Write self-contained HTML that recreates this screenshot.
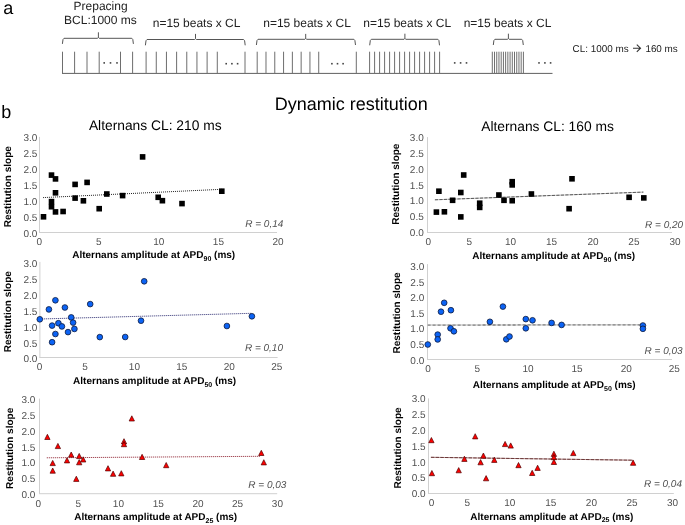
<!DOCTYPE html>
<html><head><meta charset="utf-8"><style>
html,body{margin:0;padding:0;background:#fff;}
body{width:685px;height:525px;overflow:hidden;}
svg{display:block;font-family:"Liberation Sans", sans-serif;will-change:transform;text-rendering:geometricPrecision;}
</style></head><body>
<svg width="685" height="525" viewBox="0 0 685 525">
<rect width="685" height="525" fill="#fff"/>
<line x1="62" y1="73.4" x2="552.5" y2="73.4" stroke="#606060" stroke-width="1"/>
<line x1="62.50" y1="51.7" x2="62.50" y2="73.4" stroke="#6e6e6e" stroke-width="1"/>
<line x1="74.60" y1="51.7" x2="74.60" y2="73.4" stroke="#6e6e6e" stroke-width="1"/>
<line x1="87.00" y1="51.7" x2="87.00" y2="73.4" stroke="#6e6e6e" stroke-width="1"/>
<line x1="99.20" y1="51.7" x2="99.20" y2="73.4" stroke="#6e6e6e" stroke-width="1"/>
<line x1="120.50" y1="51.7" x2="120.50" y2="73.4" stroke="#6e6e6e" stroke-width="1"/>
<line x1="132.60" y1="51.7" x2="132.60" y2="73.4" stroke="#6e6e6e" stroke-width="1"/>
<line x1="146.10" y1="51.7" x2="146.10" y2="73.4" stroke="#6e6e6e" stroke-width="1"/>
<line x1="156.27" y1="51.7" x2="156.27" y2="73.4" stroke="#6e6e6e" stroke-width="1"/>
<line x1="166.44" y1="51.7" x2="166.44" y2="73.4" stroke="#6e6e6e" stroke-width="1"/>
<line x1="176.61" y1="51.7" x2="176.61" y2="73.4" stroke="#6e6e6e" stroke-width="1"/>
<line x1="186.78" y1="51.7" x2="186.78" y2="73.4" stroke="#6e6e6e" stroke-width="1"/>
<line x1="196.95" y1="51.7" x2="196.95" y2="73.4" stroke="#6e6e6e" stroke-width="1"/>
<line x1="207.12" y1="51.7" x2="207.12" y2="73.4" stroke="#6e6e6e" stroke-width="1"/>
<line x1="217.29" y1="51.7" x2="217.29" y2="73.4" stroke="#6e6e6e" stroke-width="1"/>
<line x1="245.00" y1="51.7" x2="245.00" y2="73.4" stroke="#6e6e6e" stroke-width="1"/>
<line x1="257.20" y1="51.7" x2="257.20" y2="73.4" stroke="#6e6e6e" stroke-width="1"/>
<line x1="265.99" y1="51.7" x2="265.99" y2="73.4" stroke="#6e6e6e" stroke-width="1"/>
<line x1="274.78" y1="51.7" x2="274.78" y2="73.4" stroke="#6e6e6e" stroke-width="1"/>
<line x1="283.57" y1="51.7" x2="283.57" y2="73.4" stroke="#6e6e6e" stroke-width="1"/>
<line x1="292.36" y1="51.7" x2="292.36" y2="73.4" stroke="#6e6e6e" stroke-width="1"/>
<line x1="301.15" y1="51.7" x2="301.15" y2="73.4" stroke="#6e6e6e" stroke-width="1"/>
<line x1="309.94" y1="51.7" x2="309.94" y2="73.4" stroke="#6e6e6e" stroke-width="1"/>
<line x1="318.73" y1="51.7" x2="318.73" y2="73.4" stroke="#6e6e6e" stroke-width="1"/>
<line x1="356.30" y1="51.7" x2="356.30" y2="73.4" stroke="#6e6e6e" stroke-width="1"/>
<line x1="369.60" y1="51.7" x2="369.60" y2="73.4" stroke="#6e6e6e" stroke-width="1"/>
<line x1="374.60" y1="51.7" x2="374.60" y2="73.4" stroke="#6e6e6e" stroke-width="1"/>
<line x1="379.60" y1="51.7" x2="379.60" y2="73.4" stroke="#6e6e6e" stroke-width="1"/>
<line x1="384.60" y1="51.7" x2="384.60" y2="73.4" stroke="#6e6e6e" stroke-width="1"/>
<line x1="389.60" y1="51.7" x2="389.60" y2="73.4" stroke="#6e6e6e" stroke-width="1"/>
<line x1="394.60" y1="51.7" x2="394.60" y2="73.4" stroke="#6e6e6e" stroke-width="1"/>
<line x1="399.60" y1="51.7" x2="399.60" y2="73.4" stroke="#6e6e6e" stroke-width="1"/>
<line x1="404.60" y1="51.7" x2="404.60" y2="73.4" stroke="#6e6e6e" stroke-width="1"/>
<line x1="409.60" y1="51.7" x2="409.60" y2="73.4" stroke="#6e6e6e" stroke-width="1"/>
<line x1="414.60" y1="51.7" x2="414.60" y2="73.4" stroke="#6e6e6e" stroke-width="1"/>
<line x1="419.60" y1="51.7" x2="419.60" y2="73.4" stroke="#6e6e6e" stroke-width="1"/>
<line x1="424.60" y1="51.7" x2="424.60" y2="73.4" stroke="#6e6e6e" stroke-width="1"/>
<line x1="429.60" y1="51.7" x2="429.60" y2="73.4" stroke="#6e6e6e" stroke-width="1"/>
<line x1="434.60" y1="51.7" x2="434.60" y2="73.4" stroke="#6e6e6e" stroke-width="1"/>
<line x1="439.60" y1="51.7" x2="439.60" y2="73.4" stroke="#6e6e6e" stroke-width="1"/>
<line x1="492.30" y1="51.7" x2="492.30" y2="73.4" stroke="#6e6e6e" stroke-width="1"/>
<line x1="494.52" y1="51.7" x2="494.52" y2="73.4" stroke="#6e6e6e" stroke-width="1"/>
<line x1="496.74" y1="51.7" x2="496.74" y2="73.4" stroke="#6e6e6e" stroke-width="1"/>
<line x1="498.96" y1="51.7" x2="498.96" y2="73.4" stroke="#6e6e6e" stroke-width="1"/>
<line x1="501.19" y1="51.7" x2="501.19" y2="73.4" stroke="#6e6e6e" stroke-width="1"/>
<line x1="503.41" y1="51.7" x2="503.41" y2="73.4" stroke="#6e6e6e" stroke-width="1"/>
<line x1="505.63" y1="51.7" x2="505.63" y2="73.4" stroke="#6e6e6e" stroke-width="1"/>
<line x1="507.85" y1="51.7" x2="507.85" y2="73.4" stroke="#6e6e6e" stroke-width="1"/>
<line x1="510.07" y1="51.7" x2="510.07" y2="73.4" stroke="#6e6e6e" stroke-width="1"/>
<line x1="512.29" y1="51.7" x2="512.29" y2="73.4" stroke="#6e6e6e" stroke-width="1"/>
<line x1="514.51" y1="51.7" x2="514.51" y2="73.4" stroke="#6e6e6e" stroke-width="1"/>
<line x1="516.74" y1="51.7" x2="516.74" y2="73.4" stroke="#6e6e6e" stroke-width="1"/>
<line x1="518.96" y1="51.7" x2="518.96" y2="73.4" stroke="#6e6e6e" stroke-width="1"/>
<line x1="521.18" y1="51.7" x2="521.18" y2="73.4" stroke="#6e6e6e" stroke-width="1"/>
<line x1="523.40" y1="51.7" x2="523.40" y2="73.4" stroke="#6e6e6e" stroke-width="1"/>
<rect x="103.40" y="62.10" width="1.6" height="1.6" fill="#444"/>
<rect x="109.70" y="62.10" width="1.6" height="1.6" fill="#444"/>
<rect x="116.20" y="62.10" width="1.6" height="1.6" fill="#444"/>
<rect x="225.40" y="62.90" width="1.6" height="1.6" fill="#444"/>
<rect x="231.10" y="62.90" width="1.6" height="1.6" fill="#444"/>
<rect x="236.80" y="62.90" width="1.6" height="1.6" fill="#444"/>
<rect x="331.10" y="62.90" width="1.6" height="1.6" fill="#444"/>
<rect x="336.70" y="62.90" width="1.6" height="1.6" fill="#444"/>
<rect x="342.30" y="62.90" width="1.6" height="1.6" fill="#444"/>
<rect x="453.90" y="62.10" width="1.6" height="1.6" fill="#444"/>
<rect x="459.80" y="62.10" width="1.6" height="1.6" fill="#444"/>
<rect x="465.70" y="62.10" width="1.6" height="1.6" fill="#444"/>
<rect x="538.20" y="62.10" width="1.6" height="1.6" fill="#444"/>
<rect x="544.10" y="62.10" width="1.6" height="1.6" fill="#444"/>
<rect x="549.80" y="62.10" width="1.6" height="1.6" fill="#444"/>
<path d="M62.40,43.9 L63.00,39.50 L64.00,38.3 H97.60 L98.40,37.30 V32.3 M98.40,37.30 L99.20,38.3 H131.80 L132.80,39.50 L133.40,43.9" fill="none" stroke="#555" stroke-width="1"/>
<path d="M145.40,45.3 L146.00,40.70 L147.00,39.5 H194.70 L195.50,38.50 V33.9 M195.50,38.50 L196.30,39.5 H243.60 L244.60,40.70 L245.20,45.3" fill="none" stroke="#555" stroke-width="1"/>
<path d="M256.40,45.0 L257.00,40.50 L258.00,39.3 H304.90 L305.70,38.30 V33.9 M305.70,38.30 L306.50,39.3 H353.90 L354.90,40.50 L355.50,45.0" fill="none" stroke="#555" stroke-width="1"/>
<path d="M369.70,45.3 L370.30,40.50 L371.30,39.3 H404.10 L404.90,38.30 V33.7 M404.90,38.30 L405.70,39.3 H437.90 L438.90,40.50 L439.50,45.3" fill="none" stroke="#555" stroke-width="1"/>
<path d="M493.30,45.0 L493.90,40.50 L494.90,39.3 H507.60 L508.40,38.30 V33.7 M508.40,38.30 L509.20,39.3 H521.70 L522.70,40.50 L523.30,45.0" fill="none" stroke="#555" stroke-width="1"/>
<text x="3.3" y="13.6" font-size="18" fill="#000" text-anchor="start" font-weight="normal" font-style="normal" >a</text>
<text x="100.6" y="10.2" font-size="12" fill="#222" text-anchor="middle" font-weight="normal" font-style="normal" >Prepacing</text>
<text x="100.4" y="24.1" font-size="12" fill="#222" text-anchor="middle" font-weight="normal" font-style="normal" >BCL:1000 ms</text>
<text x="196.6" y="26.9" font-size="12" fill="#222" text-anchor="middle" font-weight="normal" font-style="normal" >n=15 beats x CL</text>
<text x="307.1" y="26.9" font-size="12" fill="#222" text-anchor="middle" font-weight="normal" font-style="normal" >n=15 beats x CL</text>
<text x="407.2" y="26.9" font-size="12" fill="#222" text-anchor="middle" font-weight="normal" font-style="normal" >n=15 beats x CL</text>
<text x="507.5" y="26.9" font-size="12" fill="#222" text-anchor="middle" font-weight="normal" font-style="normal" >n=15 beats x CL</text>
<text x="572.6" y="52.2" font-size="9.9" fill="#222" text-anchor="start" font-weight="normal" font-style="normal" >CL: 1000 ms</text>
<text x="645.4" y="52.2" font-size="9.9" fill="#222" text-anchor="start" font-weight="normal" font-style="normal" >160 ms</text>
<path d="M633,48.2 H640.4 M636.8,44.6 L640.5,48.2 L636.8,51.8" fill="none" stroke="#333" stroke-width="1.1"/>
<text x="1.2" y="117.7" font-size="18" fill="#000" text-anchor="start" font-weight="normal" font-style="normal" >b</text>
<text x="274.8" y="109.75" font-size="18" fill="#000" text-anchor="start" font-weight="normal" font-style="normal" >Dynamic restitution</text>
<text x="88.9" y="129.9" font-size="13.8" fill="#000" text-anchor="start" font-weight="normal" font-style="normal" >Alternans CL: 210 ms</text>
<text x="481.2" y="130.7" font-size="13.8" fill="#000" text-anchor="start" font-weight="normal" font-style="normal" >Alternans CL: 160 ms</text>
<line x1="39.5" y1="136.9" x2="39.5" y2="232.5" stroke="#d0d0d0" stroke-width="1"/>
<line x1="39.0" y1="232.5" x2="277.0" y2="232.5" stroke="#d0d0d0" stroke-width="1"/>
<text x="37.45" y="237.20" font-size="10" fill="#505050" text-anchor="end" font-weight="normal" font-style="normal" >0.0</text>
<text x="37.45" y="221.18" font-size="10" fill="#505050" text-anchor="end" font-weight="normal" font-style="normal" >0.5</text>
<text x="37.45" y="205.17" font-size="10" fill="#505050" text-anchor="end" font-weight="normal" font-style="normal" >1.0</text>
<text x="37.45" y="189.15" font-size="10" fill="#505050" text-anchor="end" font-weight="normal" font-style="normal" >1.5</text>
<text x="37.45" y="173.13" font-size="10" fill="#505050" text-anchor="end" font-weight="normal" font-style="normal" >2.0</text>
<text x="37.45" y="157.12" font-size="10" fill="#505050" text-anchor="end" font-weight="normal" font-style="normal" >2.5</text>
<text x="37.45" y="141.10" font-size="10" fill="#505050" text-anchor="end" font-weight="normal" font-style="normal" >3.0</text>
<text x="39.2" y="244.90" font-size="10" fill="#505050" text-anchor="middle" font-weight="normal" font-style="normal" >0</text>
<text x="98.9" y="244.90" font-size="10" fill="#505050" text-anchor="middle" font-weight="normal" font-style="normal" >5</text>
<text x="158.8" y="244.90" font-size="10" fill="#505050" text-anchor="middle" font-weight="normal" font-style="normal" >10</text>
<text x="218.4" y="244.90" font-size="10" fill="#505050" text-anchor="middle" font-weight="normal" font-style="normal" >15</text>
<text x="278.0" y="244.90" font-size="10" fill="#505050" text-anchor="middle" font-weight="normal" font-style="normal" >20</text>
<text x="72.2" y="258.0" font-size="10" font-weight="bold" fill="#000">Alternans amplitude at APD<tspan font-size="7" dy="2.6">90</tspan><tspan dy="-2.6"> (ms)</tspan></text>
<text x="0" y="0" font-size="10" font-weight="bold" fill="#000" transform="translate(11.3,227.29999999999998) rotate(-90)">Restitution slope</text>
<text x="283.3" y="227.3" font-size="10" fill="#505050" text-anchor="end" font-weight="normal" font-style="italic" >R = 0,14</text>
<line x1="427.5" y1="137.1" x2="427.5" y2="232.5" stroke="#d0d0d0" stroke-width="1"/>
<line x1="427.0" y1="232.5" x2="672.0" y2="232.5" stroke="#d0d0d0" stroke-width="1"/>
<text x="423.75" y="236.10" font-size="10" fill="#505050" text-anchor="end" font-weight="normal" font-style="normal" >0.0</text>
<text x="423.75" y="220.27" font-size="10" fill="#505050" text-anchor="end" font-weight="normal" font-style="normal" >0.5</text>
<text x="423.75" y="204.43" font-size="10" fill="#505050" text-anchor="end" font-weight="normal" font-style="normal" >1.0</text>
<text x="423.75" y="188.60" font-size="10" fill="#505050" text-anchor="end" font-weight="normal" font-style="normal" >1.5</text>
<text x="423.75" y="172.77" font-size="10" fill="#505050" text-anchor="end" font-weight="normal" font-style="normal" >2.0</text>
<text x="423.75" y="156.93" font-size="10" fill="#505050" text-anchor="end" font-weight="normal" font-style="normal" >2.5</text>
<text x="423.75" y="141.10" font-size="10" fill="#505050" text-anchor="end" font-weight="normal" font-style="normal" >3.0</text>
<text x="428.3" y="245.00" font-size="10" fill="#505050" text-anchor="middle" font-weight="normal" font-style="normal" >0</text>
<text x="469.4" y="245.00" font-size="10" fill="#505050" text-anchor="middle" font-weight="normal" font-style="normal" >5</text>
<text x="510.5" y="245.00" font-size="10" fill="#505050" text-anchor="middle" font-weight="normal" font-style="normal" >10</text>
<text x="551.6" y="245.00" font-size="10" fill="#505050" text-anchor="middle" font-weight="normal" font-style="normal" >15</text>
<text x="593.0" y="245.00" font-size="10" fill="#505050" text-anchor="middle" font-weight="normal" font-style="normal" >20</text>
<text x="633.9" y="245.00" font-size="10" fill="#505050" text-anchor="middle" font-weight="normal" font-style="normal" >25</text>
<text x="675.0" y="245.00" font-size="10" fill="#505050" text-anchor="middle" font-weight="normal" font-style="normal" >30</text>
<text x="472.2" y="259.0" font-size="10" font-weight="bold" fill="#000">Alternans amplitude at APD<tspan font-size="7" dy="2.6">90</tspan><tspan dy="-2.6"> (ms)</tspan></text>
<text x="0" y="0" font-size="10" font-weight="bold" fill="#000" transform="translate(399.0,224.7) rotate(-90)">Restitution slope</text>
<text x="683.1999999999999" y="228.0" font-size="10" fill="#505050" text-anchor="end" font-weight="normal" font-style="italic" >R = 0,20</text>
<line x1="39.9" y1="261.9" x2="39.9" y2="357.5" stroke="#d0d0d0" stroke-width="1"/>
<line x1="39.4" y1="357.5" x2="277.6" y2="357.5" stroke="#d0d0d0" stroke-width="1"/>
<text x="37.35" y="362.40" font-size="10" fill="#505050" text-anchor="end" font-weight="normal" font-style="normal" >0.0</text>
<text x="37.35" y="346.55" font-size="10" fill="#505050" text-anchor="end" font-weight="normal" font-style="normal" >0.5</text>
<text x="37.35" y="330.70" font-size="10" fill="#505050" text-anchor="end" font-weight="normal" font-style="normal" >1.0</text>
<text x="37.35" y="314.85" font-size="10" fill="#505050" text-anchor="end" font-weight="normal" font-style="normal" >1.5</text>
<text x="37.35" y="299.00" font-size="10" fill="#505050" text-anchor="end" font-weight="normal" font-style="normal" >2.0</text>
<text x="37.35" y="283.15" font-size="10" fill="#505050" text-anchor="end" font-weight="normal" font-style="normal" >2.5</text>
<text x="37.35" y="267.30" font-size="10" fill="#505050" text-anchor="end" font-weight="normal" font-style="normal" >3.0</text>
<text x="39.5" y="370.00" font-size="10" fill="#505050" text-anchor="middle" font-weight="normal" font-style="normal" >0</text>
<text x="85.1" y="370.00" font-size="10" fill="#505050" text-anchor="middle" font-weight="normal" font-style="normal" >5</text>
<text x="134.4" y="370.00" font-size="10" fill="#505050" text-anchor="middle" font-weight="normal" font-style="normal" >10</text>
<text x="181.8" y="370.00" font-size="10" fill="#505050" text-anchor="middle" font-weight="normal" font-style="normal" >15</text>
<text x="229.2" y="370.00" font-size="10" fill="#505050" text-anchor="middle" font-weight="normal" font-style="normal" >20</text>
<text x="276.7" y="370.00" font-size="10" fill="#505050" text-anchor="middle" font-weight="normal" font-style="normal" >25</text>
<text x="73.1" y="384.4" font-size="10" font-weight="bold" fill="#000">Alternans amplitude at APD<tspan font-size="7" dy="2.6">50</tspan><tspan dy="-2.6"> (ms)</tspan></text>
<text x="0" y="0" font-size="10" font-weight="bold" fill="#000" transform="translate(10.5,352.3) rotate(-90)">Restitution slope</text>
<text x="283.0" y="350.9" font-size="10" fill="#505050" text-anchor="end" font-weight="normal" font-style="italic" >R = 0,10</text>
<line x1="427.5" y1="264.1" x2="427.5" y2="359.5" stroke="#d0d0d0" stroke-width="1"/>
<line x1="427.0" y1="359.5" x2="672.0" y2="359.5" stroke="#d0d0d0" stroke-width="1"/>
<text x="424.25" y="363.60" font-size="10" fill="#505050" text-anchor="end" font-weight="normal" font-style="normal" >0.0</text>
<text x="424.25" y="348.00" font-size="10" fill="#505050" text-anchor="end" font-weight="normal" font-style="normal" >0.5</text>
<text x="424.25" y="332.40" font-size="10" fill="#505050" text-anchor="end" font-weight="normal" font-style="normal" >1.0</text>
<text x="424.25" y="316.80" font-size="10" fill="#505050" text-anchor="end" font-weight="normal" font-style="normal" >1.5</text>
<text x="424.25" y="301.20" font-size="10" fill="#505050" text-anchor="end" font-weight="normal" font-style="normal" >2.0</text>
<text x="424.25" y="285.60" font-size="10" fill="#505050" text-anchor="end" font-weight="normal" font-style="normal" >2.5</text>
<text x="424.25" y="270.00" font-size="10" fill="#505050" text-anchor="end" font-weight="normal" font-style="normal" >3.0</text>
<text x="428.0" y="372.30" font-size="10" fill="#505050" text-anchor="middle" font-weight="normal" font-style="normal" >0</text>
<text x="477.2" y="372.30" font-size="10" fill="#505050" text-anchor="middle" font-weight="normal" font-style="normal" >5</text>
<text x="528.0" y="372.30" font-size="10" fill="#505050" text-anchor="middle" font-weight="normal" font-style="normal" >10</text>
<text x="577.0" y="372.30" font-size="10" fill="#505050" text-anchor="middle" font-weight="normal" font-style="normal" >15</text>
<text x="626.2" y="372.30" font-size="10" fill="#505050" text-anchor="middle" font-weight="normal" font-style="normal" >20</text>
<text x="674.2" y="372.30" font-size="10" fill="#505050" text-anchor="middle" font-weight="normal" font-style="normal" >25</text>
<text x="472.7" y="387.9" font-size="10" font-weight="bold" fill="#000">Alternans amplitude at APD<tspan font-size="7" dy="2.6">50</tspan><tspan dy="-2.6"> (ms)</tspan></text>
<text x="0" y="0" font-size="10" font-weight="bold" fill="#000" transform="translate(400.0,353.5) rotate(-90)">Restitution slope</text>
<text x="682.6999999999999" y="354.3" font-size="10" fill="#505050" text-anchor="end" font-weight="normal" font-style="italic" >R = 0,03</text>
<line x1="39.5" y1="398.6" x2="39.5" y2="493.7" stroke="#d0d0d0" stroke-width="1"/>
<line x1="39.0" y1="493.7" x2="277.2" y2="493.7" stroke="#d0d0d0" stroke-width="1"/>
<text x="35.35" y="498.10" font-size="10" fill="#505050" text-anchor="end" font-weight="normal" font-style="normal" >0.0</text>
<text x="35.35" y="482.23" font-size="10" fill="#505050" text-anchor="end" font-weight="normal" font-style="normal" >0.5</text>
<text x="35.35" y="466.37" font-size="10" fill="#505050" text-anchor="end" font-weight="normal" font-style="normal" >1.0</text>
<text x="35.35" y="450.50" font-size="10" fill="#505050" text-anchor="end" font-weight="normal" font-style="normal" >1.5</text>
<text x="35.35" y="434.63" font-size="10" fill="#505050" text-anchor="end" font-weight="normal" font-style="normal" >2.0</text>
<text x="35.35" y="418.77" font-size="10" fill="#505050" text-anchor="end" font-weight="normal" font-style="normal" >2.5</text>
<text x="35.35" y="402.90" font-size="10" fill="#505050" text-anchor="end" font-weight="normal" font-style="normal" >3.0</text>
<text x="38.3" y="506.70" font-size="10" fill="#505050" text-anchor="middle" font-weight="normal" font-style="normal" >0</text>
<text x="78.2" y="506.70" font-size="10" fill="#505050" text-anchor="middle" font-weight="normal" font-style="normal" >5</text>
<text x="118.4" y="506.70" font-size="10" fill="#505050" text-anchor="middle" font-weight="normal" font-style="normal" >10</text>
<text x="158.3" y="506.70" font-size="10" fill="#505050" text-anchor="middle" font-weight="normal" font-style="normal" >15</text>
<text x="198.1" y="506.70" font-size="10" fill="#505050" text-anchor="middle" font-weight="normal" font-style="normal" >20</text>
<text x="237.6" y="506.70" font-size="10" fill="#505050" text-anchor="middle" font-weight="normal" font-style="normal" >25</text>
<text x="277.4" y="506.70" font-size="10" fill="#505050" text-anchor="middle" font-weight="normal" font-style="normal" >30</text>
<text x="74.2" y="519.9" font-size="10" font-weight="bold" fill="#000">Alternans amplitude at APD<tspan font-size="7" dy="2.6">25</tspan><tspan dy="-2.6"> (ms)</tspan></text>
<text x="0" y="0" font-size="10" font-weight="bold" fill="#000" transform="translate(12.6,488.9) rotate(-90)">Restitution slope</text>
<text x="286.40000000000003" y="487.6" font-size="10" fill="#505050" text-anchor="end" font-weight="normal" font-style="italic" >R = 0,03</text>
<line x1="428.5" y1="398.4" x2="428.5" y2="493.5" stroke="#d0d0d0" stroke-width="1"/>
<line x1="428.0" y1="493.5" x2="673.8" y2="493.5" stroke="#d0d0d0" stroke-width="1"/>
<text x="425.65000000000003" y="497.30" font-size="10" fill="#505050" text-anchor="end" font-weight="normal" font-style="normal" >0.0</text>
<text x="425.65000000000003" y="481.47" font-size="10" fill="#505050" text-anchor="end" font-weight="normal" font-style="normal" >0.5</text>
<text x="425.65000000000003" y="465.63" font-size="10" fill="#505050" text-anchor="end" font-weight="normal" font-style="normal" >1.0</text>
<text x="425.65000000000003" y="449.80" font-size="10" fill="#505050" text-anchor="end" font-weight="normal" font-style="normal" >1.5</text>
<text x="425.65000000000003" y="433.97" font-size="10" fill="#505050" text-anchor="end" font-weight="normal" font-style="normal" >2.0</text>
<text x="425.65000000000003" y="418.13" font-size="10" fill="#505050" text-anchor="end" font-weight="normal" font-style="normal" >2.5</text>
<text x="425.65000000000003" y="402.30" font-size="10" fill="#505050" text-anchor="end" font-weight="normal" font-style="normal" >3.0</text>
<text x="431.6" y="506.20" font-size="10" fill="#505050" text-anchor="middle" font-weight="normal" font-style="normal" >0</text>
<text x="467.4" y="506.20" font-size="10" fill="#505050" text-anchor="middle" font-weight="normal" font-style="normal" >5</text>
<text x="509.7" y="506.20" font-size="10" fill="#505050" text-anchor="middle" font-weight="normal" font-style="normal" >10</text>
<text x="550.8" y="506.20" font-size="10" fill="#505050" text-anchor="middle" font-weight="normal" font-style="normal" >15</text>
<text x="591.4" y="506.20" font-size="10" fill="#505050" text-anchor="middle" font-weight="normal" font-style="normal" >20</text>
<text x="632.0" y="506.20" font-size="10" fill="#505050" text-anchor="middle" font-weight="normal" font-style="normal" >25</text>
<text x="672.6" y="506.20" font-size="10" fill="#505050" text-anchor="middle" font-weight="normal" font-style="normal" >30</text>
<text x="470.3" y="519.5" font-size="10" font-weight="bold" fill="#000">Alternans amplitude at APD<tspan font-size="7" dy="2.6">25</tspan><tspan dy="-2.6"> (ms)</tspan></text>
<text x="0" y="0" font-size="10" font-weight="bold" fill="#000" transform="translate(401.1,488.5) rotate(-90)">Restitution slope</text>
<text x="682.0" y="487.0" font-size="10" fill="#505050" text-anchor="end" font-weight="normal" font-style="italic" >R = 0,04</text>
<line x1="43.1" y1="197.6" x2="221.8" y2="189.3" stroke="#222" stroke-width="1" stroke-dasharray="1,1"/>
<line x1="434.9" y1="199.8" x2="643.4" y2="192.1" stroke="#c4c4c4" stroke-width="0.9"/>
<line x1="434.9" y1="199.8" x2="643.4" y2="192.1" stroke="#4a4a4a" stroke-width="0.9" stroke-dasharray="3.2,1.3"/>
<line x1="39.8" y1="319" x2="251.9" y2="313.3" stroke="#2a2a70" stroke-width="1" stroke-dasharray="1,1"/>
<line x1="427.6" y1="325.1" x2="642.9" y2="324.8" stroke="#cfcfcf" stroke-width="1.5"/>
<line x1="427.6" y1="325.1" x2="642.9" y2="324.8" stroke="#858585" stroke-width="1.3" stroke-dasharray="3,2"/>
<line x1="46.8" y1="457.8" x2="260.8" y2="456.3" stroke="#8b1a2a" stroke-width="1" stroke-dasharray="1,1"/>
<line x1="430.9" y1="457.3" x2="633.1" y2="460.2" stroke="#c09a9a" stroke-width="1"/>
<line x1="430.9" y1="457.3" x2="633.1" y2="460.2" stroke="#6a3838" stroke-width="1" stroke-dasharray="3.5,1.2"/>
<rect x="40.70" y="214.00" width="5.6" height="5.6" fill="#000"/>
<rect x="48.70" y="172.30" width="5.6" height="5.6" fill="#000"/>
<rect x="52.70" y="176.10" width="5.6" height="5.6" fill="#000"/>
<rect x="52.70" y="190.00" width="5.6" height="5.6" fill="#000"/>
<rect x="48.70" y="198.80" width="5.6" height="5.6" fill="#000"/>
<rect x="48.70" y="203.90" width="5.6" height="5.6" fill="#000"/>
<rect x="52.70" y="209.10" width="5.6" height="5.6" fill="#000"/>
<rect x="60.30" y="208.70" width="5.6" height="5.6" fill="#000"/>
<rect x="72.30" y="181.60" width="5.6" height="5.6" fill="#000"/>
<rect x="72.30" y="195.30" width="5.6" height="5.6" fill="#000"/>
<rect x="84.30" y="179.60" width="5.6" height="5.6" fill="#000"/>
<rect x="80.60" y="198.00" width="5.6" height="5.6" fill="#000"/>
<rect x="96.40" y="205.90" width="5.6" height="5.6" fill="#000"/>
<rect x="104.00" y="191.20" width="5.6" height="5.6" fill="#000"/>
<rect x="119.80" y="192.80" width="5.6" height="5.6" fill="#000"/>
<rect x="139.80" y="154.10" width="5.6" height="5.6" fill="#000"/>
<rect x="155.40" y="194.50" width="5.6" height="5.6" fill="#000"/>
<rect x="159.60" y="197.90" width="5.6" height="5.6" fill="#000"/>
<rect x="179.20" y="200.80" width="5.6" height="5.6" fill="#000"/>
<rect x="219.00" y="188.40" width="5.6" height="5.6" fill="#000"/>
<rect x="433.60" y="209.30" width="5.6" height="5.6" fill="#000"/>
<rect x="441.60" y="209.00" width="5.6" height="5.6" fill="#000"/>
<rect x="436.10" y="188.40" width="5.6" height="5.6" fill="#000"/>
<rect x="449.80" y="197.50" width="5.6" height="5.6" fill="#000"/>
<rect x="458.00" y="214.10" width="5.6" height="5.6" fill="#000"/>
<rect x="458.00" y="189.70" width="5.6" height="5.6" fill="#000"/>
<rect x="460.90" y="172.20" width="5.6" height="5.6" fill="#000"/>
<rect x="476.90" y="200.40" width="5.6" height="5.6" fill="#000"/>
<rect x="476.90" y="204.60" width="5.6" height="5.6" fill="#000"/>
<rect x="496.10" y="192.20" width="5.6" height="5.6" fill="#000"/>
<rect x="501.20" y="197.50" width="5.6" height="5.6" fill="#000"/>
<rect x="509.40" y="197.90" width="5.6" height="5.6" fill="#000"/>
<rect x="509.40" y="178.90" width="5.6" height="5.6" fill="#000"/>
<rect x="509.40" y="182.10" width="5.6" height="5.6" fill="#000"/>
<rect x="528.60" y="191.20" width="5.6" height="5.6" fill="#000"/>
<rect x="569.20" y="176.00" width="5.6" height="5.6" fill="#000"/>
<rect x="566.30" y="205.90" width="5.6" height="5.6" fill="#000"/>
<rect x="626.30" y="194.50" width="5.6" height="5.6" fill="#000"/>
<rect x="641.00" y="195.10" width="5.6" height="5.6" fill="#000"/>
<circle cx="39.80" cy="319.30" r="2.85" fill="#0b63f5" stroke="#101a3a" stroke-width="0.8"/>
<circle cx="48.90" cy="309.40" r="2.85" fill="#0b63f5" stroke="#101a3a" stroke-width="0.8"/>
<circle cx="55.40" cy="300.30" r="2.85" fill="#0b63f5" stroke="#101a3a" stroke-width="0.8"/>
<circle cx="64.90" cy="307.50" r="2.85" fill="#0b63f5" stroke="#101a3a" stroke-width="0.8"/>
<circle cx="52.10" cy="325.60" r="2.85" fill="#0b63f5" stroke="#101a3a" stroke-width="0.8"/>
<circle cx="58.40" cy="323.20" r="2.85" fill="#0b63f5" stroke="#101a3a" stroke-width="0.8"/>
<circle cx="61.90" cy="326.40" r="2.85" fill="#0b63f5" stroke="#101a3a" stroke-width="0.8"/>
<circle cx="55.40" cy="334.00" r="2.85" fill="#0b63f5" stroke="#101a3a" stroke-width="0.8"/>
<circle cx="52.10" cy="342.20" r="2.85" fill="#0b63f5" stroke="#101a3a" stroke-width="0.8"/>
<circle cx="71.20" cy="317.40" r="2.85" fill="#0b63f5" stroke="#101a3a" stroke-width="0.8"/>
<circle cx="73.10" cy="322.60" r="2.85" fill="#0b63f5" stroke="#101a3a" stroke-width="0.8"/>
<circle cx="74.40" cy="328.90" r="2.85" fill="#0b63f5" stroke="#101a3a" stroke-width="0.8"/>
<circle cx="68.00" cy="332.10" r="2.85" fill="#0b63f5" stroke="#101a3a" stroke-width="0.8"/>
<circle cx="90.20" cy="304.10" r="2.85" fill="#0b63f5" stroke="#101a3a" stroke-width="0.8"/>
<circle cx="99.80" cy="337.10" r="2.85" fill="#0b63f5" stroke="#101a3a" stroke-width="0.8"/>
<circle cx="144.20" cy="281.30" r="2.85" fill="#0b63f5" stroke="#101a3a" stroke-width="0.8"/>
<circle cx="141.00" cy="320.70" r="2.85" fill="#0b63f5" stroke="#101a3a" stroke-width="0.8"/>
<circle cx="125.20" cy="337.00" r="2.85" fill="#0b63f5" stroke="#101a3a" stroke-width="0.8"/>
<circle cx="226.90" cy="326.00" r="2.85" fill="#0b63f5" stroke="#101a3a" stroke-width="0.8"/>
<circle cx="251.90" cy="316.30" r="2.85" fill="#0b63f5" stroke="#101a3a" stroke-width="0.8"/>
<circle cx="427.80" cy="344.50" r="2.85" fill="#0b63f5" stroke="#101a3a" stroke-width="0.8"/>
<circle cx="437.70" cy="334.60" r="2.85" fill="#0b63f5" stroke="#101a3a" stroke-width="0.8"/>
<circle cx="437.70" cy="339.40" r="2.85" fill="#0b63f5" stroke="#101a3a" stroke-width="0.8"/>
<circle cx="441.00" cy="311.70" r="2.85" fill="#0b63f5" stroke="#101a3a" stroke-width="0.8"/>
<circle cx="444.20" cy="302.80" r="2.85" fill="#0b63f5" stroke="#101a3a" stroke-width="0.8"/>
<circle cx="450.90" cy="310.20" r="2.85" fill="#0b63f5" stroke="#101a3a" stroke-width="0.8"/>
<circle cx="450.50" cy="328.30" r="2.85" fill="#0b63f5" stroke="#101a3a" stroke-width="0.8"/>
<circle cx="453.90" cy="331.30" r="2.85" fill="#0b63f5" stroke="#101a3a" stroke-width="0.8"/>
<circle cx="489.90" cy="321.80" r="2.85" fill="#0b63f5" stroke="#101a3a" stroke-width="0.8"/>
<circle cx="502.90" cy="306.60" r="2.85" fill="#0b63f5" stroke="#101a3a" stroke-width="0.8"/>
<circle cx="506.30" cy="339.30" r="2.85" fill="#0b63f5" stroke="#101a3a" stroke-width="0.8"/>
<circle cx="509.50" cy="336.50" r="2.85" fill="#0b63f5" stroke="#101a3a" stroke-width="0.8"/>
<circle cx="525.80" cy="319.10" r="2.85" fill="#0b63f5" stroke="#101a3a" stroke-width="0.8"/>
<circle cx="532.50" cy="320.30" r="2.85" fill="#0b63f5" stroke="#101a3a" stroke-width="0.8"/>
<circle cx="525.80" cy="328.30" r="2.85" fill="#0b63f5" stroke="#101a3a" stroke-width="0.8"/>
<circle cx="551.60" cy="322.90" r="2.85" fill="#0b63f5" stroke="#101a3a" stroke-width="0.8"/>
<circle cx="561.60" cy="324.90" r="2.85" fill="#0b63f5" stroke="#101a3a" stroke-width="0.8"/>
<circle cx="642.90" cy="325.50" r="2.85" fill="#0b63f5" stroke="#101a3a" stroke-width="0.8"/>
<circle cx="642.90" cy="328.80" r="2.85" fill="#0b63f5" stroke="#101a3a" stroke-width="0.8"/>
<path d="M47.40,434.30 L50.05,439.50 L44.75,439.50 Z" fill="#ff0000" stroke="#500000" stroke-width="0.7"/>
<path d="M57.90,443.40 L60.55,448.60 L55.25,448.60 Z" fill="#ff0000" stroke="#500000" stroke-width="0.7"/>
<path d="M52.70,460.40 L55.35,465.60 L50.05,465.60 Z" fill="#ff0000" stroke="#500000" stroke-width="0.7"/>
<path d="M52.70,468.00 L55.35,473.20 L50.05,473.20 Z" fill="#ff0000" stroke="#500000" stroke-width="0.7"/>
<path d="M71.20,452.00 L73.85,457.20 L68.55,457.20 Z" fill="#ff0000" stroke="#500000" stroke-width="0.7"/>
<path d="M67.00,457.70 L69.65,462.90 L64.35,462.90 Z" fill="#ff0000" stroke="#500000" stroke-width="0.7"/>
<path d="M79.20,453.40 L81.85,458.60 L76.55,458.60 Z" fill="#ff0000" stroke="#500000" stroke-width="0.7"/>
<path d="M79.20,459.60 L81.85,464.80 L76.55,464.80 Z" fill="#ff0000" stroke="#500000" stroke-width="0.7"/>
<path d="M83.20,456.80 L85.85,462.00 L80.55,462.00 Z" fill="#ff0000" stroke="#500000" stroke-width="0.7"/>
<path d="M76.30,476.20 L78.95,481.40 L73.65,481.40 Z" fill="#ff0000" stroke="#500000" stroke-width="0.7"/>
<path d="M108.00,465.70 L110.65,470.90 L105.35,470.90 Z" fill="#ff0000" stroke="#500000" stroke-width="0.7"/>
<path d="M113.10,471.10 L115.75,476.30 L110.45,476.30 Z" fill="#ff0000" stroke="#500000" stroke-width="0.7"/>
<path d="M121.30,470.70 L123.95,475.90 L118.65,475.90 Z" fill="#ff0000" stroke="#500000" stroke-width="0.7"/>
<path d="M124.00,438.70 L126.65,443.90 L121.35,443.90 Z" fill="#ff0000" stroke="#500000" stroke-width="0.7"/>
<path d="M124.00,441.50 L126.65,446.70 L121.35,446.70 Z" fill="#ff0000" stroke="#500000" stroke-width="0.7"/>
<path d="M131.80,415.80 L134.45,421.00 L129.15,421.00 Z" fill="#ff0000" stroke="#500000" stroke-width="0.7"/>
<path d="M142.10,454.30 L144.75,459.50 L139.45,459.50 Z" fill="#ff0000" stroke="#500000" stroke-width="0.7"/>
<path d="M166.20,462.50 L168.85,467.70 L163.55,467.70 Z" fill="#ff0000" stroke="#500000" stroke-width="0.7"/>
<path d="M261.30,450.30 L263.95,455.50 L258.65,455.50 Z" fill="#ff0000" stroke="#500000" stroke-width="0.7"/>
<path d="M263.80,459.70 L266.45,464.90 L261.15,464.90 Z" fill="#ff0000" stroke="#500000" stroke-width="0.7"/>
<path d="M431.90,470.50 L434.55,475.70 L429.25,475.70 Z" fill="#ff0000" stroke="#500000" stroke-width="0.7"/>
<path d="M431.40,437.50 L434.05,442.70 L428.75,442.70 Z" fill="#ff0000" stroke="#500000" stroke-width="0.7"/>
<path d="M458.70,467.60 L461.35,472.80 L456.05,472.80 Z" fill="#ff0000" stroke="#500000" stroke-width="0.7"/>
<path d="M464.40,456.20 L467.05,461.40 L461.75,461.40 Z" fill="#ff0000" stroke="#500000" stroke-width="0.7"/>
<path d="M475.20,433.70 L477.85,438.90 L472.55,438.90 Z" fill="#ff0000" stroke="#500000" stroke-width="0.7"/>
<path d="M480.60,459.60 L483.25,464.80 L477.95,464.80 Z" fill="#ff0000" stroke="#500000" stroke-width="0.7"/>
<path d="M483.40,453.00 L486.05,458.20 L480.75,458.20 Z" fill="#ff0000" stroke="#500000" stroke-width="0.7"/>
<path d="M486.10,475.60 L488.75,480.80 L483.45,480.80 Z" fill="#ff0000" stroke="#500000" stroke-width="0.7"/>
<path d="M494.30,457.20 L496.95,462.40 L491.65,462.40 Z" fill="#ff0000" stroke="#500000" stroke-width="0.7"/>
<path d="M505.10,441.40 L507.75,446.60 L502.45,446.60 Z" fill="#ff0000" stroke="#500000" stroke-width="0.7"/>
<path d="M510.70,442.90 L513.35,448.10 L508.05,448.10 Z" fill="#ff0000" stroke="#500000" stroke-width="0.7"/>
<path d="M518.50,462.50 L521.15,467.70 L515.85,467.70 Z" fill="#ff0000" stroke="#500000" stroke-width="0.7"/>
<path d="M532.20,470.30 L534.85,475.50 L529.55,475.50 Z" fill="#ff0000" stroke="#500000" stroke-width="0.7"/>
<path d="M537.60,465.20 L540.25,470.40 L534.95,470.40 Z" fill="#ff0000" stroke="#500000" stroke-width="0.7"/>
<path d="M553.90,451.20 L556.55,456.40 L551.25,456.40 Z" fill="#ff0000" stroke="#500000" stroke-width="0.7"/>
<path d="M553.90,454.50 L556.55,459.70 L551.25,459.70 Z" fill="#ff0000" stroke="#500000" stroke-width="0.7"/>
<path d="M553.90,459.30 L556.55,464.50 L551.25,464.50 Z" fill="#ff0000" stroke="#500000" stroke-width="0.7"/>
<path d="M573.30,450.40 L575.95,455.60 L570.65,455.60 Z" fill="#ff0000" stroke="#500000" stroke-width="0.7"/>
<path d="M633.10,460.10 L635.75,465.30 L630.45,465.30 Z" fill="#ff0000" stroke="#500000" stroke-width="0.7"/>
</svg>
</body></html>
